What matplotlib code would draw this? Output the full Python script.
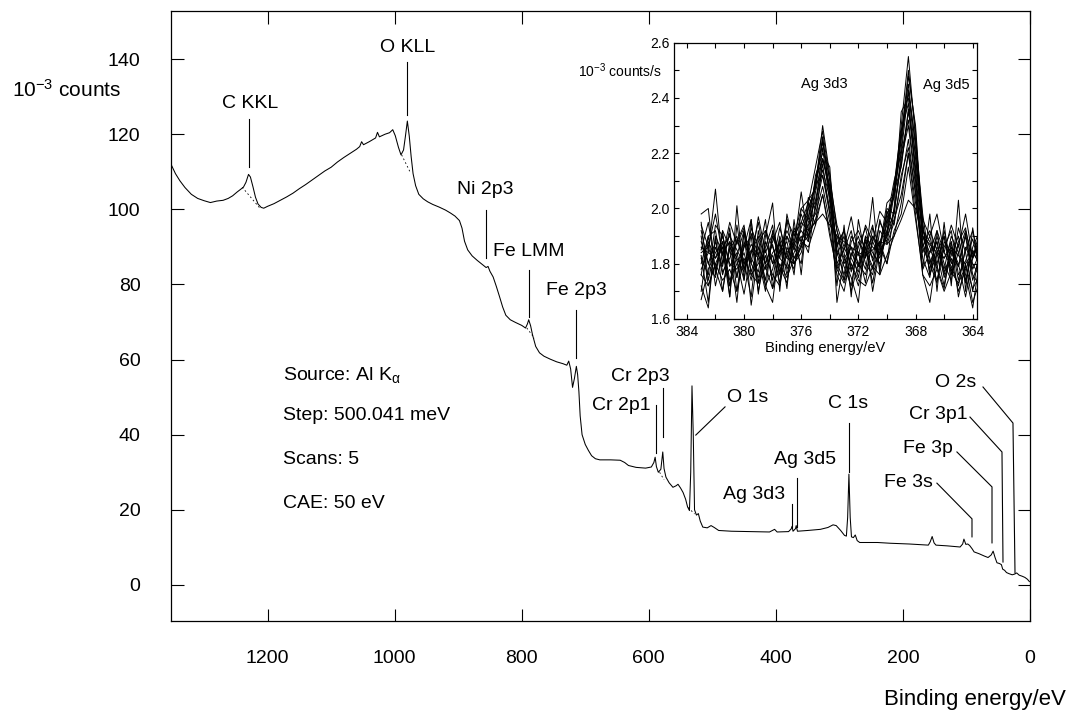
import matplotlib
matplotlib.use('Agg')
import matplotlib.pyplot as plt
from matplotlib.ticker import MultipleLocator, FormatStrFormatter

plt.rcParams['font.family'] = ['Liberation Sans', 'DejaVu Sans']
plt.rcParams['mathtext.default'] = 'regular'

# ---------------- survey spectrum (binding energy / eV, 10^-3 counts) -------------
survey_energy = [1352, 1345, 1338, 1330, 1320, 1310, 1300, 1290, 1280, 1270, 1262, 1255, 1248,
                 1242, 1238, 1234, 1230, 1227, 1223, 1219, 1215, 1210, 1206, 1200, 1190, 1180,
                 1170, 1160, 1150, 1140, 1130, 1120, 1110, 1100, 1090, 1080, 1070, 1060, 1055,
                 1052, 1049, 1040, 1030, 1027, 1024, 1015, 1008, 1003, 999, 994, 990, 986, 983,
                 980, 977, 974, 971, 967, 962, 955, 948, 940, 930, 920, 912, 905, 898, 894, 890,
                 885, 878, 870, 862, 856, 853, 850, 845, 840, 835, 830, 825, 818, 810, 800, 794,
                 791, 789, 786, 783, 778, 772, 765, 755, 745, 735, 729, 726, 723, 720, 717, 714,
                 712, 710, 708, 705, 700, 695, 690, 684, 677, 660, 645, 638, 632, 620, 605, 596,
                 592, 590, 588, 585, 581, 578, 576, 573, 568, 562, 557, 554, 550, 546, 542, 539,
                 536, 534, 532, 530, 528, 525, 522, 519, 515, 508, 502, 497, 490, 470, 440, 410,
                 402, 398, 380, 376, 374.5, 373, 369, 368, 366, 350, 330, 318, 310, 305, 298,
                 292, 289, 287, 285, 283, 281, 278, 275, 272, 268, 240, 220, 190, 170, 160, 157,
                 154, 151, 148, 130, 110, 106, 104, 101, 98, 95, 91, 88, 80, 72, 66, 61, 58, 55,
                 52, 48, 45, 43, 40, 37, 33, 28, 24, 21, 17, 12, 8, 4, 1]
survey_counts = [112.0, 109.5, 107.6, 105.8, 104.0, 102.9, 102.3, 101.8, 102.2, 102.4, 102.9, 103.6,
                 104.6, 105.4, 105.9, 107.2, 109.3, 108.6, 106.0, 103.2, 101.4, 100.5, 100.3, 100.8,
                 101.5, 102.4, 103.3, 104.3, 105.5, 106.6, 107.8, 109.0, 110.2, 111.2, 112.6, 113.8,
                 114.9, 116.0, 116.7, 118.0, 117.2, 118.0, 119.0, 120.5, 119.3, 120.0, 120.4, 121.2,
                 119.6, 116.5, 114.5, 115.8, 119.5, 123.5, 119.5, 114.0, 109.5, 106.3, 104.0, 102.8,
                 102.0, 101.3, 100.6, 99.8, 99.0, 98.2, 97.0, 95.0, 91.5, 89.2, 87.6, 86.4, 85.3,
                 84.5, 84.8, 83.5, 82.0, 79.5, 76.8, 74.0, 71.8, 70.6, 69.9, 69.1, 68.4, 69.5, 70.6,
                 69.0, 66.6, 63.5, 61.8, 60.9, 60.1, 59.4, 58.9, 58.5, 59.6, 57.5, 52.6, 55.0, 58.2,
                 56.0, 51.5, 45.0, 40.0, 37.4, 35.8, 34.4, 33.6, 33.3, 33.3, 33.2, 32.6, 31.8, 31.3,
                 31.1, 31.4, 32.6, 34.0, 31.5, 30.0, 30.8, 35.4, 31.0, 28.7, 27.2, 26.0, 26.4, 26.8,
                 25.8, 24.6, 22.8, 20.8, 19.8, 30.0, 53.0, 40.0, 20.0, 18.6, 19.0, 17.0, 15.4, 15.2,
                 15.8, 15.3, 14.5, 14.3, 14.2, 14.1, 14.8, 14.1, 14.2, 14.9, 15.6, 14.3, 15.0, 15.8,
                 14.3, 14.5, 14.8, 15.3, 16.0, 15.8, 14.5, 13.2, 13.0, 18.0, 29.5, 18.0, 12.8, 12.6,
                 13.3, 11.8, 11.3, 11.3, 11.1, 10.9, 10.7, 10.6, 11.5, 12.9, 11.2, 10.6, 10.4, 10.1,
                 10.9, 12.2, 10.8, 10.9, 10.5, 9.6, 8.8, 8.3, 7.7, 7.3, 8.0, 9.0, 7.3, 5.9, 5.7, 5.4,
                 4.2, 3.9, 3.3, 3.0, 2.7, 2.9, 3.2, 2.6, 2.3, 2.0, 1.5, 0.9]

# dashed background segments under peaks: (E1, E2), (y1, y2)
bg_energy = [(1240, 1212), (989, 975), (792, 780), (583, 576), (538, 528)]
bg_counts = [(105.9, 100.3), (114.5, 109.7), (68.4, 65.7), (30.0, 28.0), (20.6, 18.9)]

# peak labels: text, text position (E, counts), leader line vertices
peak_labels = ['C KKL', 'O KLL', 'Ni 2p3', 'Fe LMM', 'Fe 2p3', 'Cr 2p3', 'Cr 2p1', 'O 1s',
               'C 1s', 'Ag 3d5', 'Ag 3d3', 'O 2s', 'Cr 3p1', 'Fe 3p', 'Fe 3s']
label_pos = [(1228, 128.3), (980, 143.2), (857, 105.3), (788.5, 88.7), (714, 78.3),
             (612.6, 55.6), (642.5, 47.9), (444, 49.8), (286.6, 48.2), (354, 33.5),
             (434.6, 24.0), (116.5, 53.8), (145, 45.5), (160.6, 36.2), (190.6, 27.4)]
leader_E = [[1229, 1229], [980, 980], [857, 857], [789, 789], [715, 715], [578, 578],
            [589, 589], [480, 526], [285, 285], [367, 367], [375, 375],
            [74, 26.8, 23.6], [94.5, 44.1, 42.5], [115, 59.8, 59.8], [146.5, 91.3, 91.3]]
leader_c = [[124.0, 111.3], [139.2, 125.1], [99.8, 87.0], [83.8, 71.3], [73.2, 60.4],
            [52.4, 39.4], [47.9, 35.1], [47.4, 39.9], [43.1, 30.0], [28.5, 15.4],
            [21.6, 15.4], [52.7, 43.1, 3.2], [44.7, 35.4, 6.1], [35.4, 26.1, 11.2],
            [27.1, 17.6, 12.8]]

info_lines = [r'Source: Al K$_{\alpha}$', 'Step: 500.041 meV', 'Scans: 5', 'CAE: 50 eV']
info_counts = [55.9, 45.2, 33.3, 21.8]
info_E = 1176

main_xticks = [1200, 1000, 800, 600, 400, 200, 0]
main_yticks = [0, 20, 40, 60, 80, 100, 120, 140]

# ---------------- inset: Ag 3d region scans ----------------
ag_energy = [383.0, 382.5, 382.0, 381.5, 381.0, 380.5, 380.0, 379.5, 379.0, 378.5,
             378.0, 377.5, 377.0, 376.5, 376.0, 375.5, 375.0, 374.5, 374.0, 373.5,
             373.0, 372.5, 372.0, 371.5, 371.0, 370.5, 370.0, 369.5, 369.0, 368.5,
             368.0, 367.5, 367.0, 366.5, 366.0, 365.5, 365.0, 364.5, 364.0, 363.5]
ag_scans = [
    [1.92, 1.80, 1.88, 1.76, 1.85, 1.90, 1.78, 1.84, 1.95, 1.80, 1.87, 1.76, 1.90, 1.85, 1.93, 2.00, 2.08, 2.30, 2.12, 1.92,
     1.80, 1.86, 1.75, 1.88, 1.82, 1.95, 1.90, 2.08, 2.30, 2.55, 2.25, 1.98, 1.80, 1.88, 1.76, 1.85, 1.79, 1.90, 1.74, 1.83],
    [1.85, 1.95, 1.78, 1.88, 1.72, 1.83, 1.92, 1.77, 1.86, 1.74, 1.90, 1.82, 1.79, 1.93, 1.88, 1.97, 2.10, 2.25, 2.05, 1.86,
     1.92, 1.78, 1.84, 1.73, 1.90, 1.86, 2.02, 2.05, 2.22, 2.48, 2.30, 1.92, 1.86, 1.78, 1.92, 1.80, 1.87, 1.73, 1.85, 1.79],
    [1.78, 1.84, 2.07, 1.80, 1.91, 1.75, 1.86, 1.96, 1.73, 1.88, 1.80, 1.93, 1.84, 1.78, 1.95, 1.92, 2.12, 2.20, 2.15, 1.80,
     1.85, 1.92, 1.79, 1.86, 1.94, 1.78, 1.96, 2.10, 2.20, 2.43, 2.18, 1.95, 1.76, 1.84, 1.90, 1.77, 1.93, 1.84, 1.70, 1.86],
    [1.70, 1.88, 1.82, 1.90, 1.79, 1.84, 1.74, 1.91, 1.83, 1.96, 1.71, 1.85, 1.90, 1.82, 1.86, 2.04, 2.00, 2.22, 2.02, 1.88,
     1.74, 1.83, 1.90, 1.80, 1.76, 1.92, 1.88, 2.00, 2.35, 2.40, 2.12, 1.90, 1.82, 1.74, 1.86, 1.92, 1.76, 1.81, 1.89, 1.78],
    [1.95, 1.74, 1.86, 1.79, 1.93, 1.70, 1.88, 1.80, 1.75, 1.86, 1.94, 1.77, 1.84, 1.88, 1.98, 1.90, 2.06, 2.18, 2.08, 1.83,
     1.90, 1.77, 1.86, 1.93, 1.81, 1.88, 1.94, 2.06, 2.15, 2.35, 2.20, 1.88, 1.78, 1.90, 1.80, 1.74, 1.88, 1.93, 1.78, 1.84],
    [1.83, 1.66, 1.90, 1.84, 1.72, 1.89, 1.81, 1.68, 1.92, 1.79, 1.83, 1.73, 1.96, 1.80, 1.84, 1.95, 2.03, 2.16, 1.98, 1.78,
     1.86, 1.80, 1.72, 1.84, 1.90, 1.83, 1.92, 1.98, 2.18, 2.30, 2.08, 1.84, 1.90, 1.79, 1.71, 1.86, 1.80, 1.68, 1.82, 1.88],
    [1.88, 1.80, 1.75, 1.92, 1.86, 1.81, 1.69, 1.84, 1.90, 1.72, 1.78, 1.89, 1.76, 1.87, 1.92, 1.88, 2.00, 2.12, 2.00, 1.85,
     1.79, 1.72, 1.88, 1.84, 1.78, 1.96, 1.87, 1.95, 2.10, 2.25, 2.05, 1.82, 1.75, 1.92, 1.84, 1.79, 1.72, 1.86, 1.80, 1.75],
    [1.80, 1.90, 1.92, 1.77, 1.82, 1.88, 1.94, 1.76, 1.80, 1.85, 1.74, 1.90, 1.82, 1.92, 1.88, 1.94, 1.98, 2.08, 1.95, 1.90,
     1.82, 1.86, 1.80, 1.76, 1.88, 1.82, 1.90, 1.96, 2.05, 2.20, 2.02, 1.86, 1.80, 1.73, 1.88, 1.84, 1.79, 1.91, 1.76, 1.72],
    [1.67, 1.78, 1.84, 1.88, 1.74, 1.80, 1.86, 1.90, 1.70, 1.83, 1.76, 1.72, 1.86, 1.80, 1.87, 1.90, 1.96, 2.05, 1.92, 1.76,
     1.70, 1.84, 1.79, 1.86, 1.73, 1.88, 1.80, 1.92, 1.98, 2.15, 1.96, 1.78, 1.84, 1.88, 1.75, 1.82, 1.70, 1.78, 1.84, 1.80],
    [1.86, 1.84, 1.82, 1.86, 1.90, 1.85, 1.80, 1.87, 1.83, 1.78, 1.84, 1.87, 1.82, 1.80, 1.86, 1.92, 1.95, 1.98, 1.94, 1.90,
     1.88, 1.86, 1.84, 1.83, 1.85, 1.88, 1.87, 1.90, 1.96, 2.03, 2.00, 1.90, 1.87, 1.84, 1.82, 1.86, 1.83, 1.80, 1.84, 1.86],
    [1.76, 1.90, 1.72, 1.84, 1.88, 1.75, 1.91, 1.82, 1.77, 1.92, 1.86, 1.79, 1.73, 1.90, 1.95, 2.02, 2.15, 2.28, 2.10, 1.84,
     1.76, 1.90, 1.84, 1.78, 1.93, 1.86, 1.98, 2.04, 2.25, 2.50, 2.28, 1.90, 1.84, 1.92, 1.77, 1.83, 1.90, 1.76, 1.64, 1.82],
    [1.90, 1.72, 1.80, 1.86, 1.68, 1.94, 1.78, 1.85, 1.82, 1.70, 1.92, 1.84, 1.88, 1.76, 2.00, 1.96, 2.10, 2.18, 2.06, 1.92,
     1.84, 1.70, 1.80, 1.89, 1.84, 1.80, 1.92, 2.08, 2.28, 2.38, 2.15, 1.92, 1.88, 1.80, 1.90, 1.76, 1.84, 1.92, 1.82, 1.90],
    [1.84, 1.86, 1.78, 1.70, 1.88, 1.82, 1.77, 1.93, 1.86, 1.80, 1.88, 1.95, 1.78, 1.84, 1.90, 1.84, 2.02, 2.14, 2.04, 1.80,
     1.74, 1.88, 1.92, 1.85, 1.79, 1.84, 2.00, 1.98, 2.20, 2.32, 2.10, 1.86, 1.92, 1.85, 1.78, 1.90, 1.84, 1.74, 1.86, 1.92],
    [1.82, 1.76, 1.94, 1.90, 1.80, 1.78, 1.84, 1.74, 1.88, 1.92, 1.80, 1.84, 1.92, 1.86, 1.80, 2.00, 2.08, 2.26, 2.05, 1.87,
     1.92, 1.82, 1.77, 1.90, 1.86, 1.84, 1.90, 2.05, 2.28, 2.45, 2.22, 1.94, 1.76, 1.86, 1.82, 1.88, 1.74, 1.85, 1.92, 1.79],
    [1.98, 2.00, 1.76, 1.92, 1.68, 2.01, 1.74, 1.96, 1.69, 1.90, 2.02, 1.70, 1.98, 1.86, 2.06, 1.88, 2.09, 2.12, 1.98, 1.72,
     1.94, 1.68, 1.96, 1.82, 2.04, 1.76, 1.99, 1.94, 2.12, 2.22, 2.06, 1.78, 1.98, 1.70, 1.95, 1.72, 2.03, 1.70, 1.93, 1.76],
    [1.72, 1.64, 1.90, 1.70, 1.86, 1.66, 1.92, 1.65, 1.84, 1.72, 1.66, 1.88, 1.71, 1.96, 1.76, 2.02, 1.94, 2.18, 2.08, 1.66,
     1.82, 1.75, 1.66, 1.90, 1.70, 1.86, 1.80, 2.00, 2.16, 2.36, 2.14, 1.76, 1.66, 1.84, 1.72, 1.88, 1.68, 1.80, 1.66, 1.74],
    [1.94, 1.86, 1.98, 1.83, 1.95, 1.87, 1.93, 1.80, 1.97, 1.84, 1.91, 1.82, 1.96, 1.90, 2.00, 2.03, 2.07, 2.24, 2.10, 1.94,
     1.86, 1.97, 1.83, 1.94, 1.88, 1.99, 1.95, 2.06, 2.26, 2.42, 2.24, 1.96, 1.90, 1.98, 1.84, 1.94, 1.86, 1.98, 1.82, 1.92],
    [1.76, 1.72, 1.80, 1.74, 1.78, 1.70, 1.82, 1.76, 1.73, 1.79, 1.71, 1.80, 1.75, 1.82, 1.88, 1.86, 1.94, 2.05, 1.90, 1.78,
     1.73, 1.80, 1.74, 1.72, 1.79, 1.76, 1.83, 1.90, 2.02, 2.20, 1.98, 1.76, 1.72, 1.78, 1.70, 1.77, 1.73, 1.79, 1.71, 1.76],
]
inset_labels = ['Ag 3d3', 'Ag 3d5']
inset_label_pos = [(374.4, 2.452), (365.85, 2.448)]
inset_xticks = [384, 380, 376, 372, 368, 364]

# ---------------- figure ----------------
fig = plt.figure(figsize=(10.7, 7.13), dpi=100)
ax = fig.add_axes([171 / 1070, (713 - 621) / 713, 859 / 1070, 610 / 713])
ax.plot(survey_energy, survey_counts, color='black', lw=0.75)
for (e1, e2), (c1, c2) in zip(bg_energy, bg_counts):
    ax.plot([e1, e2], [c1, c2], color='black', lw=0.6, ls=(0, (2, 3)))
for lab, (ex, cy), le, lc in zip(peak_labels, label_pos, leader_E, leader_c):
    ax.text(ex, cy, lab, ha='center', va='center', fontsize=14)
    ax.plot(le, lc, color='black', lw=0.8)
for txt, cy in zip(info_lines, info_counts):
    ax.text(info_E, cy, txt, ha='left', va='center', fontsize=14)

ax.set_xlim(1352, 0)
ax.set_ylim(-9.6, 152.8)
ax.set_xticks(main_xticks)
ax.set_yticks(main_yticks)
ax.tick_params(axis='both', direction='in', length=9, width=0.8, top=True, right=True,
               labelsize=14)
ax.tick_params(axis='x', pad=21)
ax.tick_params(axis='y', pad=22)
for s in ax.spines.values():
    s.set_linewidth(0.9)

fig.text(12 / 1070, 1 - 90 / 713, r'10$^{-3}$ counts', ha='left', va='center', fontsize=15)
fig.text(1066 / 1070, 1 - 700 / 713, 'Binding energy/eV', ha='right', va='center', fontsize=16)

# ---------------- inset ----------------
axi = fig.add_axes([674 / 1070, (713 - 319) / 713, 303 / 1070, 276.3 / 713])
for scan in ag_scans:
    axi.plot(ag_energy, scan, color='black', lw=0.7)
for lab, (ex, cy) in zip(inset_labels, inset_label_pos):
    axi.text(ex, cy, lab, ha='center', va='center', fontsize=10.5)
axi.set_xlim(384.9, 363.7)
axi.set_ylim(1.6, 2.6)
axi.set_xticks(inset_xticks)
axi.xaxis.set_minor_locator(MultipleLocator(2))
axi.yaxis.set_major_locator(MultipleLocator(0.2))
axi.yaxis.set_minor_locator(MultipleLocator(0.1))
axi.yaxis.set_major_formatter(FormatStrFormatter('%.1f'))
axi.tick_params(which='both', direction='in', length=3.5, width=0.8, top=True, right=True,
                labelsize=10)
axi.tick_params(axis='x', which='both', pad=4)
axi.tick_params(axis='y', which='both', pad=3)
for s in axi.spines.values():
    s.set_linewidth(0.9)
axi.set_xlabel('Binding energy/eV', fontsize=10.5, labelpad=2)
fig.text(662 / 1070, 1 - 71 / 713, r'10$^{-3}$ counts/s', ha='right', va='center', fontsize=10)

fig.savefig('out.png', dpi=100)
